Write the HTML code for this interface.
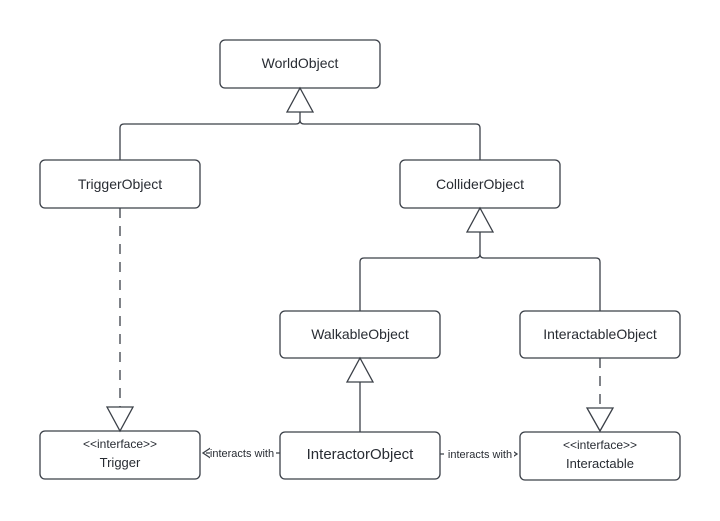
<!DOCTYPE html>
<html><head><style>
body{margin:0;background:#fff}
svg{display:block}
text{font-family:"Liberation Sans",sans-serif;fill:#282c33}
</style></head><body>
<svg width="720" height="521" viewBox="0 0 720 521">
<g fill="#fff" stroke="#3b4048" stroke-width="1.3">
<rect x="220" y="40" width="160" height="48" rx="5"/>
<rect x="40" y="160" width="160" height="48" rx="5"/>
<rect x="400" y="160" width="160" height="48" rx="5"/>
<rect x="280" y="311" width="160" height="47" rx="5"/>
<rect x="520" y="311" width="160" height="47" rx="5"/>
<rect x="40" y="431" width="160" height="48" rx="5"/>
<rect x="280" y="432" width="160" height="47" rx="5"/>
<rect x="520" y="432" width="160" height="48" rx="5"/>
</g>
<g fill="none" stroke="#3b4048" stroke-width="1.3">
<path d="M120 160 V128 Q120 124 124 124 H296 Q300 124 300 120 V112 M300 120 Q300 124 304 124 H476 Q480 124 480 128 V160"/>
<path d="M360 311 V262 Q360 258 364 258 H476 Q480 258 480 254 V232 M480 254 Q480 258 484 258 H596 Q600 258 600 262 V311"/>
<path d="M360 382 V432"/>
<path d="M120 208 V407 M600 358 V408" stroke-dasharray="10 8"/>
<path d="M280 453 H203 M440 454 H517" stroke-dasharray="4 3"/>
<path d="M212 447 L203 453 L212 459 M508 448 L517 454 L508 460"/>
</g>
<g fill="#fff" stroke="#3b4048" stroke-width="1.3">
<path d="M300 88 L313 112 H287 Z"/>
<path d="M480 208 L493 232 H467 Z"/>
<path d="M360 358 L373 382 H347 Z"/>
<path d="M120 431 L133 407 H107 Z"/>
<path d="M600 431 L613 408 H587 Z"/>
</g>
<rect x="210" y="446" width="64" height="14" fill="#fff"/>
<rect x="446" y="447" width="68" height="14" fill="#fff"/>
<g font-size="14" text-anchor="middle">
<text x="300" y="68">WorldObject</text>
<text x="120" y="189">TriggerObject</text>
<text x="480" y="189">ColliderObject</text>
<text x="360" y="339">WalkableObject</text>
<text x="600" y="339">InteractableObject</text>
<text x="360" y="459" font-size="15">InteractorObject</text>
</g>
<g font-size="12" text-anchor="middle">
<text x="120" y="448">&lt;&lt;interface&gt;&gt;</text>
<text x="120" y="467" font-size="13">Trigger</text>
<text x="600" y="449">&lt;&lt;interface&gt;&gt;</text>
<text x="600" y="468" font-size="13">Interactable</text>
<text x="242" y="457" font-size="11">interacts with</text>
<text x="480" y="458" font-size="11">interacts with</text>
</g>
</svg>
</body></html>
